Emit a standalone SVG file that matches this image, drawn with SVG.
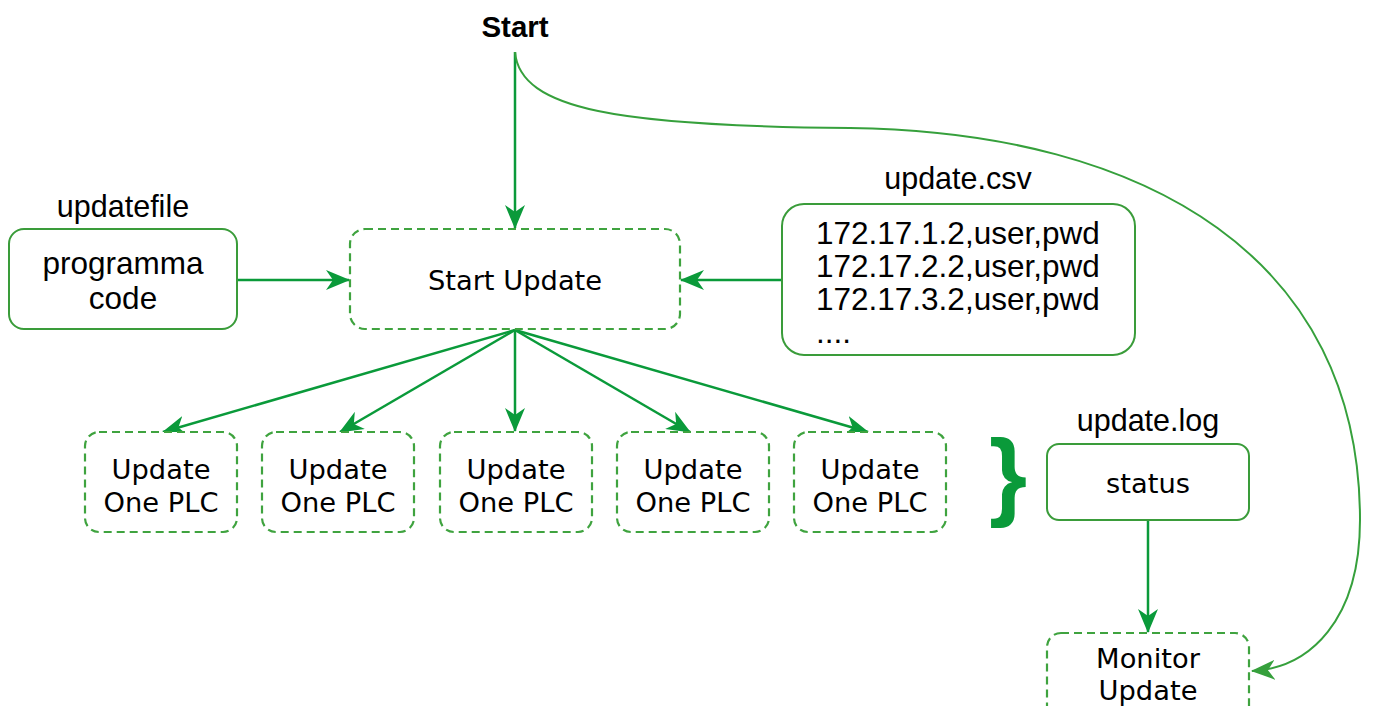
<svg xmlns="http://www.w3.org/2000/svg" width="1381" height="706" viewBox="0 0 1381 706">
  <defs>
    <style>
      .box { fill: #ffffff; stroke: #3a9c3a; stroke-width: 2; }
      .dash { fill: #ffffff; stroke: #3fa33f; stroke-width: 2.2; stroke-dasharray: 8 5; }
      .lbl { font-family: "Liberation Sans", Arial, sans-serif; font-size: 30.5px; fill: #000000; text-anchor: middle; }
      .txt { font-family: "Liberation Sans", Arial, sans-serif; font-size: 31.5px; fill: #000000; text-anchor: middle; }
      .csv { font-family: "Liberation Sans", Arial, sans-serif; font-size: 31.5px; fill: #000000; }
      .body { font-family: "DejaVu Sans", Verdana, sans-serif; font-size: 27.3px; fill: #000000; text-anchor: middle; }
      .edge { fill: none; stroke: #0a9a3a; stroke-width: 2.5; }
      .curve { fill: none; stroke: #36a03c; stroke-width: 2; }
    </style>
    <!-- classic notched arrowheads, sized in user units -->
    <marker id="arrow" viewBox="0 0 24 20" refX="23" refY="10" markerWidth="24" markerHeight="20" markerUnits="userSpaceOnUse" orient="auto" preserveAspectRatio="none">
      <path d="M0,0 L24,10 L0,20 L7,10 z" fill="#0a9a3a"/>
    </marker>
    <marker id="arrowCurve" viewBox="0 0 24 20" refX="23" refY="10" markerWidth="24" markerHeight="20" markerUnits="userSpaceOnUse" orient="auto" preserveAspectRatio="none">
      <path d="M0,0 L24,10 L0,20 L7,10 z" fill="#36a03c"/>
    </marker>
  </defs>

  <!-- connectors -->
  <g id="connectors">
    <path class="edge" d="M515,52 L515,228" marker-end="url(#arrow)"/>
    <path class="curve" d="M515,52 C520,110 620,126 850,128 C1150,132 1360,260 1360,520 C1360,620 1310,668 1252,671" marker-end="url(#arrowCurve)"/>
    <path class="edge" d="M238,280 L349,280" marker-end="url(#arrow)"/>
    <path class="edge" d="M781,280 L681,280" marker-end="url(#arrow)"/>
    <path class="edge" d="M515,330 L163,432" marker-end="url(#arrow)"/>
    <path class="edge" d="M515,330 L340,432" marker-end="url(#arrow)"/>
    <path class="edge" d="M515,330 L515,431" marker-end="url(#arrow)"/>
    <path class="edge" d="M515,330 L690,432" marker-end="url(#arrow)"/>
    <path class="edge" d="M515,330 L868,432" marker-end="url(#arrow)"/>
    <path class="edge" d="M1148,520 L1148,632" marker-end="url(#arrow)"/>
  </g>

  <!-- start label -->
  <g id="start">
    <text x="515" y="37" style="font-family: 'Liberation Sans', Arial, sans-serif; font-size: 29.5px; font-weight: bold; text-anchor: middle;">Start</text>
  </g>

  <!-- input program file -->
  <g id="updatefile">
    <text class="lbl" x="123" y="217">updatefile</text>
    <rect class="box" x="9" y="229" width="228" height="100" rx="15"/>
    <text class="txt" x="123" y="274">programma</text>
    <text class="txt" x="123" y="309">code</text>
  </g>

  <!-- central update step -->
  <g id="start-update">
    <rect class="dash" x="350" y="229" width="330" height="100" rx="15"/>
    <text class="body" x="515" y="290">Start Update</text>
  </g>

  <!-- device list -->
  <g id="update-csv">
    <text class="lbl" x="958" y="189">update.csv</text>
    <rect class="box" x="782" y="204" width="353" height="151" rx="22"/>
    <text class="csv" x="816" y="244">172.17.1.2,user,pwd</text>
    <text class="csv" x="816" y="277">172.17.2.2,user,pwd</text>
    <text class="csv" x="816" y="310">172.17.3.2,user,pwd</text>
    <text class="csv" x="816" y="343">....</text>
  </g>

  <!-- per-device workers -->
  <g id="plc-1">
    <rect class="dash" x="85" y="432" width="152" height="100" rx="14"/>
    <text class="body" x="161" y="479">Update</text>
    <text class="body" x="161" y="512">One PLC</text>
  </g>
  <g id="plc-2">
    <rect class="dash" x="262" y="432" width="152" height="100" rx="14"/>
    <text class="body" x="338" y="479">Update</text>
    <text class="body" x="338" y="512">One PLC</text>
  </g>
  <g id="plc-3">
    <rect class="dash" x="440" y="432" width="152" height="100" rx="14"/>
    <text class="body" x="516" y="479">Update</text>
    <text class="body" x="516" y="512">One PLC</text>
  </g>
  <g id="plc-4">
    <rect class="dash" x="617" y="432" width="152" height="100" rx="14"/>
    <text class="body" x="693" y="479">Update</text>
    <text class="body" x="693" y="512">One PLC</text>
  </g>
  <g id="plc-5">
    <rect class="dash" x="794" y="432" width="152" height="100" rx="14"/>
    <text class="body" x="870" y="479">Update</text>
    <text class="body" x="870" y="512">One PLC</text>
  </g>

  <!-- grouping brace -->
  <g id="brace">
    <text x="1008" y="508" style="font-family: 'Liberation Sans', Arial, sans-serif; font-size: 98px; font-weight: bold; fill: #0a9a3a; text-anchor: middle;">}</text>
  </g>

  <!-- log file -->
  <g id="update-log">
    <text class="lbl" x="1148" y="431">update.log</text>
    <rect class="box" x="1047" y="444" width="202" height="76" rx="12"/>
    <text class="body" x="1148" y="493">status</text>
  </g>

  <!-- monitor -->
  <g id="monitor-update">
    <rect class="dash" x="1047" y="633" width="202" height="100" rx="14"/>
    <text class="body" x="1148" y="668">Monitor</text>
    <text class="body" x="1148" y="700">Update</text>
  </g>
</svg>
